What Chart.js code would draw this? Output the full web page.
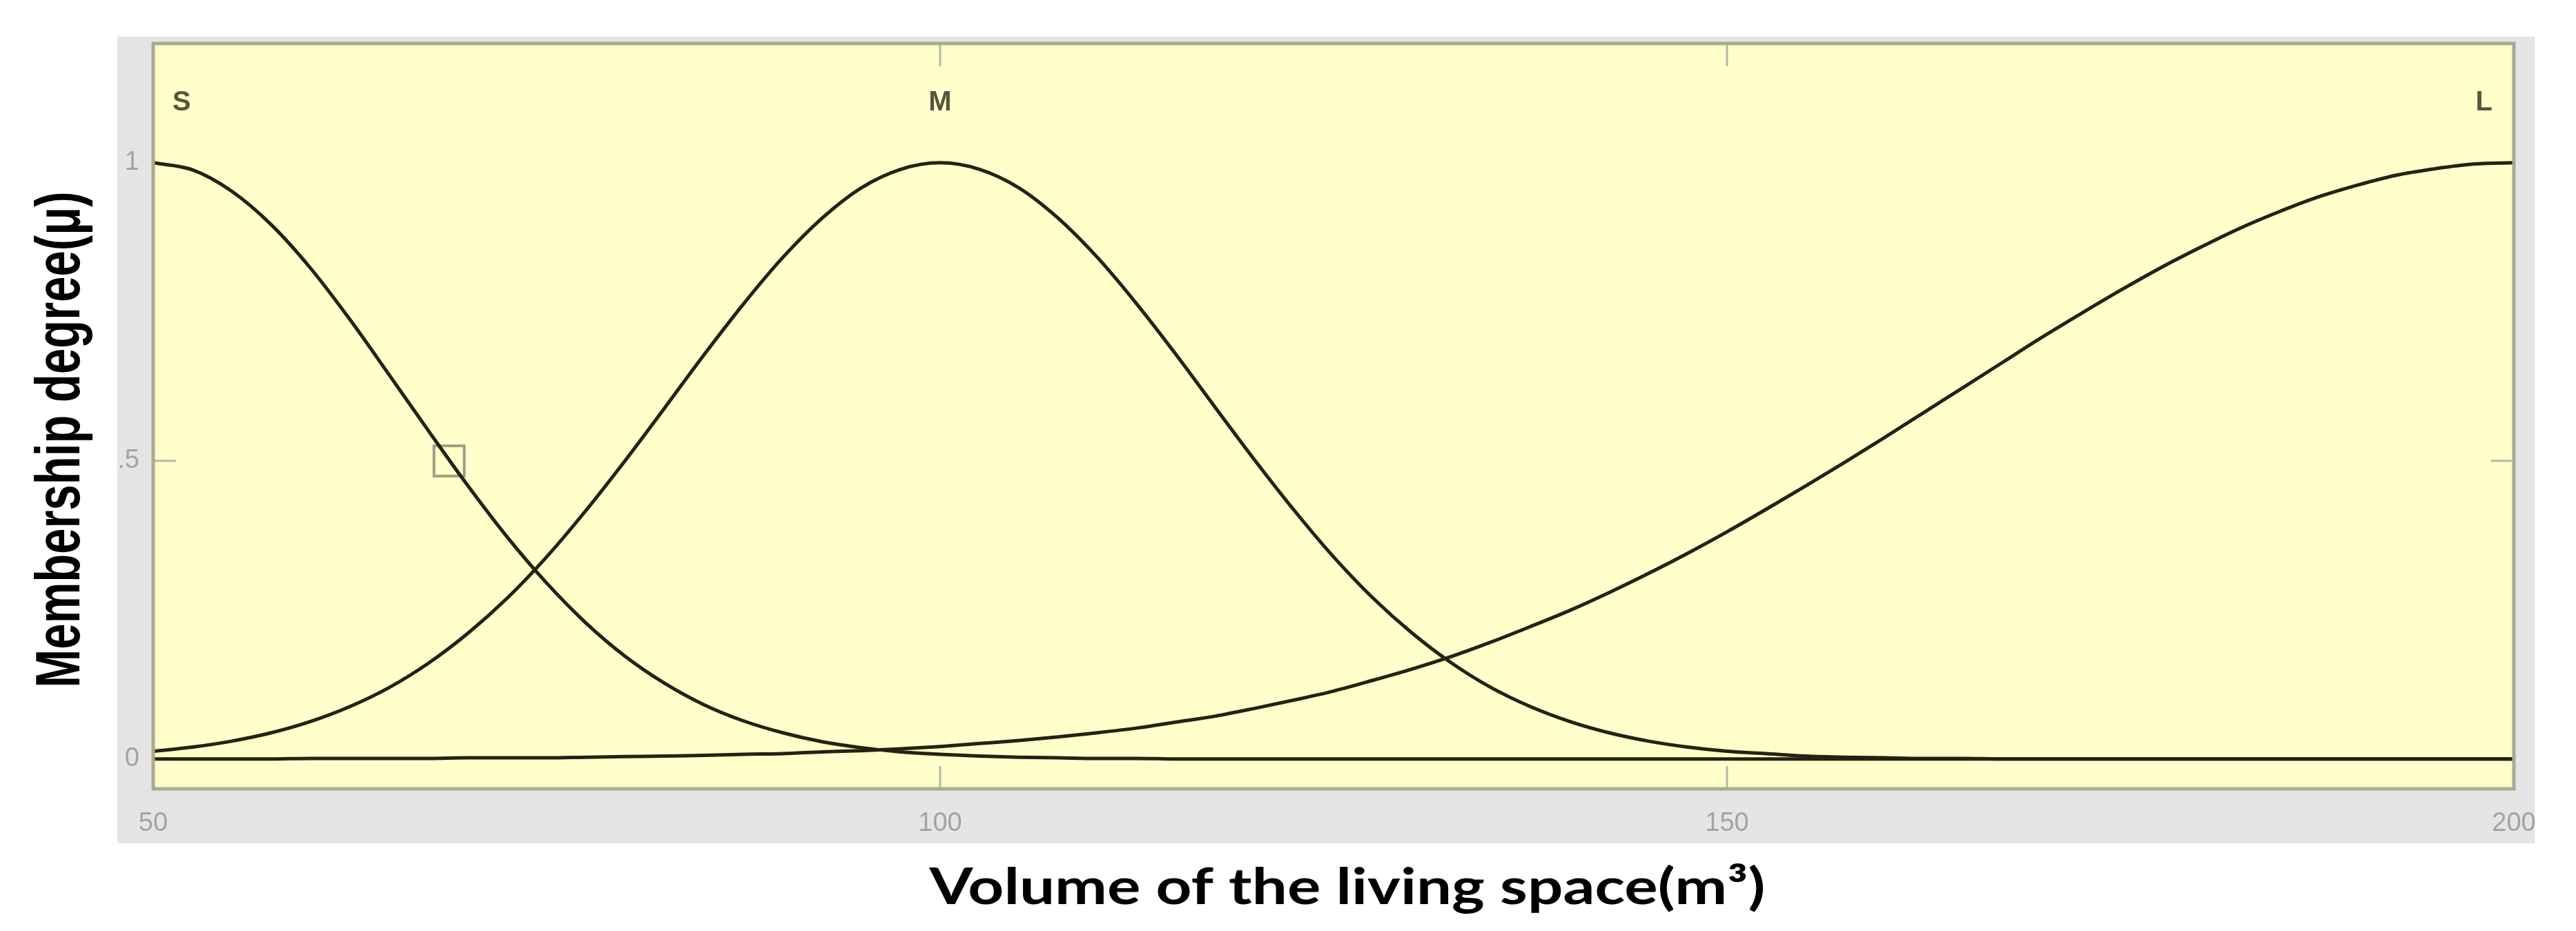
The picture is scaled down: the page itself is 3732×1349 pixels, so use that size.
<!DOCTYPE html>
<html>
<head>
<meta charset="utf-8">
<title>Membership functions - volume of the living space</title>
<script src="https://cdn.jsdelivr.net/npm/chart.js@4.4.1/dist/chart.umd.min.js"></script>
<style>
  html, body { margin: 0; padding: 0; background: #fff; }
  canvas { display: block; }
</style>
</head>
<body>
<canvas id="mf" width="3732" height="1349"></canvas>
<script>
// volume of the living space (m3), read every 2.5 units
var volume = [50, 52.5, 55, 57.5, 60, 62.5, 65, 67.5, 70, 72.5, 75, 77.5, 80, 82.5, 85, 87.5,
              90, 92.5, 95, 97.5, 100, 102.5, 105, 107.5, 110, 112.5, 115, 117.5, 120, 122.5,
              125, 127.5, 130, 132.5, 135, 137.5, 140, 142.5, 145, 147.5, 150, 152.5, 155,
              157.5, 160, 162.5, 165, 167.5, 170, 172.5, 175, 177.5, 180, 182.5, 185, 187.5,
              190, 192.5, 195, 197.5, 200];

// membership degrees
var small  = [1, 0.988, 0.952, 0.896, 0.823, 0.737, 0.644, 0.550, 0.458, 0.372, 0.295, 0.228,
              0.172, 0.127, 0.091, 0.064, 0.044, 0.029, 0.019, 0.012, 0.008, 0.005, 0.003,
              0.002, 0.001, 0.001, 0, 0, 0, 0, 0, 0, 0, 0, 0, 0, 0, 0, 0, 0, 0, 0, 0, 0, 0,
              0, 0, 0, 0, 0, 0, 0, 0, 0, 0, 0, 0, 0, 0, 0, 0];
var medium = [0.013, 0.020, 0.030, 0.044, 0.063, 0.088, 0.120, 0.161, 0.211, 0.270, 0.339,
              0.417, 0.501, 0.589, 0.678, 0.763, 0.841, 0.907, 0.958, 0.989, 1, 0.989, 0.958,
              0.907, 0.841, 0.763, 0.678, 0.589, 0.501, 0.417, 0.339, 0.270, 0.211, 0.161,
              0.120, 0.088, 0.063, 0.044, 0.030, 0.020, 0.013, 0.009, 0.005, 0.003, 0.002,
              0.001, 0.001, 0, 0, 0, 0, 0, 0, 0, 0, 0, 0, 0, 0, 0, 0];
var large  = [0, 0, 0, 0, 0.001, 0.001, 0.001, 0.001, 0.002, 0.002, 0.002, 0.003, 0.004,
              0.005, 0.006, 0.008, 0.009, 0.012, 0.014, 0.017, 0.021, 0.026, 0.031, 0.037,
              0.044, 0.052, 0.062, 0.072, 0.085, 0.099, 0.114, 0.132, 0.151, 0.172, 0.196,
              0.222, 0.249, 0.279, 0.311, 0.345, 0.381, 0.419, 0.458, 0.498, 0.539, 0.581,
              0.623, 0.665, 0.707, 0.747, 0.786, 0.823, 0.857, 0.889, 0.917, 0.942, 0.962,
              0.979, 0.990, 0.998, 1];

var mfNames  = ['S', 'M', 'L'];
var mfLabelX = [51.8, 100, 198.1];
var mfLabelY = 1.1;

var xTicks = [50, 100, 150, 200];
var yTicks = [0, 0.5, 1];
var yTickLabels = ['0', '0.5', '1'];
var innerXTicks = [100, 150];
var innerYTicks = [0.5];

// the little square cursor on the S curve
var cursor = [68.8, 0.5];

var xTitle = 'Volume of the living space(m\u00b3)';
var yTitle = 'Membership degree(\u03bc)';

function toPoints(ys) {
  return volume.map(function(v, i) { return { x: v, y: ys[i] }; });
}

var curveColor = '#23230f';
var tickFont = { family: '"Liberation Sans Narrow", "Liberation Sans", sans-serif', size: 38 };

var curves = [small, medium, large].map(function(ys, i) {
  return {
    label: mfNames[i],
    data: toPoints(ys),
    borderColor: curveColor,
    borderWidth: 5,
    pointRadius: 0,
    fill: false,
    cubicInterpolationMode: 'monotone'
  };
});

curves.push({
  label: 'cursor',
  data: [{ x: cursor[0], y: cursor[1] }],
  showLine: false,
  pointStyle: 'rect',
  pointRadius: 31,
  pointBorderWidth: 4,
  pointBorderColor: '#9e9e82',
  pointBackgroundColor: 'rgba(0,0,0,0)'
});

// gray panel, yellow plot area, frame, inner ticks, MF names and axis titles
var mfeditLook = {
  id: 'mfeditLook',
  beforeDraw: function(chart) {
    var ctx = chart.ctx, a = chart.chartArea;
    ctx.save();
    ctx.fillStyle = '#ffffff';
    ctx.fillRect(0, 0, chart.width, chart.height);
    ctx.fillStyle = '#e5e5e5';
    ctx.fillRect(a.left - 52, a.top - 10, (a.right - a.left) + 82, (a.bottom - a.top) + 89);
    ctx.fillStyle = '#ffffcc';
    ctx.fillRect(a.left, a.top, a.right - a.left, a.bottom - a.top);
    ctx.restore();
  },
  afterDatasetsDraw: function(chart) {
    var ctx = chart.ctx, a = chart.chartArea;
    var xs = chart.scales.x, ys = chart.scales.y;
    ctx.save();
    // inner tick marks
    ctx.strokeStyle = '#b9b99d';
    ctx.lineWidth = 3;
    ctx.beginPath();
    innerXTicks.forEach(function(v) {
      var px = xs.getPixelForValue(v);
      ctx.moveTo(px, a.top); ctx.lineTo(px, a.top + 33);
      ctx.moveTo(px, a.bottom); ctx.lineTo(px, a.bottom - 33);
    });
    innerYTicks.forEach(function(v) {
      var py = ys.getPixelForValue(v);
      ctx.moveTo(a.left, py); ctx.lineTo(a.left + 33, py);
      ctx.moveTo(a.right, py); ctx.lineTo(a.right - 33, py);
    });
    ctx.stroke();
    // frame
    ctx.strokeStyle = '#aaaa92';
    ctx.lineWidth = 5;
    ctx.strokeRect(a.left, a.top, a.right - a.left, a.bottom - a.top);
    // MF names
    ctx.fillStyle = '#56563c';
    ctx.font = 'bold 40px "Liberation Sans Narrow", "Liberation Sans", sans-serif';
    ctx.textAlign = 'center';
    ctx.textBaseline = 'middle';
    mfNames.forEach(function(n, i) {
      ctx.fillText(n, xs.getPixelForValue(mfLabelX[i]), ys.getPixelForValue(mfLabelY));
    });
    ctx.restore();
  },
  afterDraw: function(chart) {
    var ctx = chart.ctx, a = chart.chartArea;
    ctx.save();
    // the panel cuts off whatever sticks out on its left (".5")
    ctx.fillStyle = '#ffffff';
    ctx.fillRect(0, a.top - 10, a.left - 52, (a.bottom - a.top) + 89);

    ctx.fillStyle = '#000000';
    ctx.textAlign = 'center';
    ctx.textBaseline = 'alphabetic';

    // x title
    ctx.font = 'bold 72px Lato, "Open Sans", sans-serif';
    var w = ctx.measureText(xTitle).width;
    ctx.save();
    ctx.translate(1952, a.bottom + 167);
    ctx.scale(1211 / w, 1);
    ctx.fillText(xTitle, 0, 0);
    ctx.restore();

    // y title, squeezed like the original
    ctx.font = 'bold 91px "Liberation Sans", Arial, sans-serif';
    var h = ctx.measureText(yTitle).width;
    ctx.save();
    ctx.translate(115, 637);
    ctx.rotate(-Math.PI / 2);
    ctx.scale(719 / h, 1);
    ctx.fillText(yTitle, 0, 0);
    ctx.restore();

    ctx.restore();
  }
};

new Chart(document.getElementById('mf'), {
  type: 'line',
  data: { datasets: curves },
  options: {
    responsive: false,
    animation: false,
    devicePixelRatio: 1,
    layout: { autoPadding: false, padding: { left: 0, right: 90, top: 63, bottom: 0 } },
    plugins: { legend: { display: false }, tooltip: { enabled: false } },
    scales: {
      x: {
        type: 'linear',
        min: 50,
        max: 200,
        afterBuildTicks: function(s) { s.ticks = xTicks.map(function(v) { return { value: v }; }); },
        afterFit: function(s) { s.height = 206; s.paddingLeft = 0; s.paddingRight = 0; },
        grid: { display: false, drawTicks: false },
        border: { display: false },
        ticks: { padding: 28, color: '#a3a3a3', font: tickFont, maxRotation: 0, autoSkip: false }
      },
      y: {
        type: 'linear',
        min: -0.05,
        max: 1.2,
        afterBuildTicks: function(s) { s.ticks = yTicks.map(function(v) { return { value: v }; }); },
        afterFit: function(s) { s.width = 222; s.paddingTop = 0; s.paddingBottom = 0; },
        grid: { display: false, drawTicks: false },
        border: { display: false },
        ticks: {
          padding: 20,
          color: '#a3a3a3',
          font: tickFont,
          autoSkip: false,
          callback: function(v) { return yTickLabels[yTicks.indexOf(v)]; }
        }
      }
    }
  },
  plugins: [mfeditLook]
});
</script>
</body>
</html>
